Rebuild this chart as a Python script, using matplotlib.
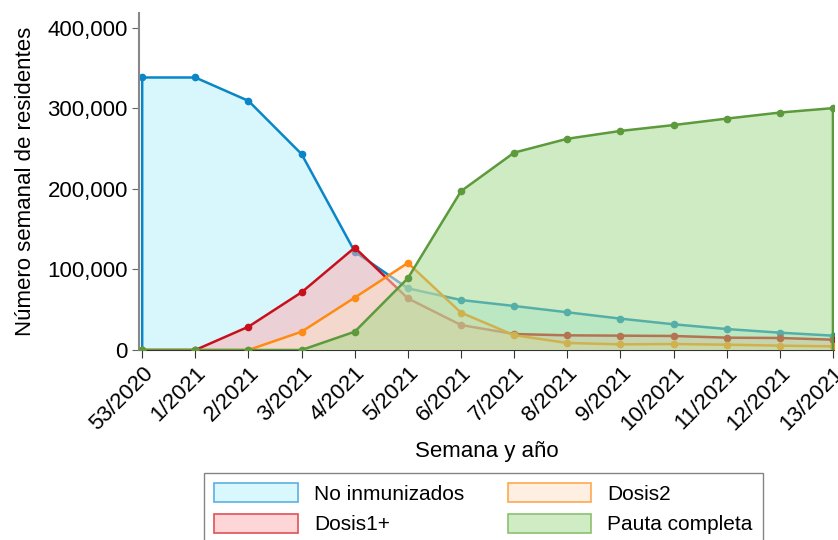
import matplotlib
matplotlib.use("Agg")
import matplotlib.pyplot as plt
from matplotlib.patches import Patch
from matplotlib.ticker import FuncFormatter

weeks = ["53/2020", "1/2021", "2/2021", "3/2021", "4/2021", "5/2021", "6/2021",
         "7/2021", "8/2021", "9/2021", "10/2021", "11/2021", "12/2021", "13/2021"]
no_inmunizados = [338000, 338000, 309000, 243000, 122000, 76500, 62000,
                  54600, 46800, 38900, 31900, 26000, 21500, 17800]
dosis1 = [0, 0, 28900, 71600, 127000, 64000, 31000,
          19800, 18200, 17800, 17400, 15300, 14900, 12800]
dosis2 = [0, 0, 0, 22700, 65000, 108000, 46300,
          18400, 8700, 7000, 7400, 6600, 5400, 4500]
pauta = [0, 0, 0, 0, 22700, 89000, 197000,
         244800, 262000, 271700, 279000, 287000, 294500, 300000]

labels = ["No inmunizados", "Dosis1+", "Dosis2", "Pauta completa"]
series = [no_inmunizados, dosis1, dosis2, pauta]
line_colors = ["#0a86c8", "#c8101c", "#ff8a14", "#5c9a3c"]
fill_colors = ["#b1f1fb", "#ffadb1", "#fddfc5", "#a1d989"]
fill_alpha = 0.5

plt.rcParams['font.family'] = ['Liberation Sans', 'DejaVu Sans']

fig = plt.figure(figsize=(8.38, 5.4), dpi=100)
ax = fig.add_axes([139/838, 1-350/540, (834-139)/838, (350-13)/540])

x = list(range(len(weeks)))
z = 1
for vals, lc, fc in zip(series, line_colors, fill_colors):
    ax.fill_between(x, 0, vals, facecolor=fc, alpha=fill_alpha, edgecolor='none', zorder=z)
    ax.plot([x[0]] + x + [x[-1]], [0] + vals + [0], color=lc, lw=1.8,
            zorder=z + 0.5, solid_joinstyle='round')
    ax.plot(x, vals, color=lc, lw=0, marker='o', ms=4.5, zorder=z + 0.5)
    z += 1

ax.set_xlim(-0.06, 13.02)
ax.set_ylim(0, 418000)
ax.set_yticks([0, 100000, 200000, 300000, 400000])
ax.yaxis.set_major_formatter(FuncFormatter(lambda v, p: f"{int(v):,}"))
ax.set_xticks(x)
ax.set_xticklabels(weeks, rotation=45, ha='right', rotation_mode='anchor')
ax.tick_params(axis='both', labelsize=16, length=5)
ax.tick_params(axis='y', color='#666666', pad=3)
ax.tick_params(axis='x', color='#333333', pad=3, length=6)
for s in ['top', 'right']:
    ax.spines[s].set_visible(False)
ax.spines['left'].set_color('#888888')
ax.spines['bottom'].set_color('#333333')
ax.spines['left'].set_linewidth(1.5)

ax.set_xlabel("Semana y año", fontsize=16, labelpad=5)
ax.set_ylabel("Número semanal de residentes", fontsize=16, labelpad=8)

handles = [Patch(facecolor=fc, edgecolor=lc, lw=1.2)
           for lc, fc in zip(["#5ab0e0", "#e05058", "#ffa850", "#8cc070"],
                             ["#d8f8fd", "#ffd6d8", "#feefe2", "#d0ecc4"])]
leg = fig.legend(handles, labels, ncol=2, loc='upper left',
                 bbox_to_anchor=(204/838, 1-473/540), fontsize=15,
                 frameon=True, fancybox=False, edgecolor='#666666',
                 handlelength=4.0, handleheight=1.0, columnspacing=2.1,
                 handletextpad=0.77, borderpad=0.5, labelspacing=0.48,
                 borderaxespad=0)
leg.get_frame().set_linewidth(1.0)

fig.savefig("out.png", dpi=100)
